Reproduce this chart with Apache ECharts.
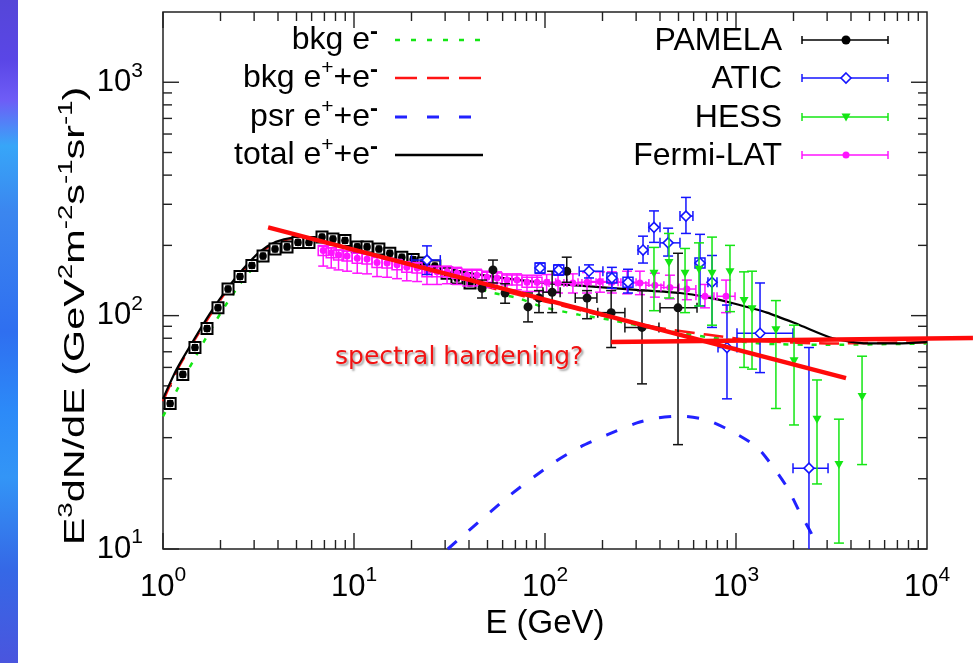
<!DOCTYPE html>
<html style="height: 100%">
<head>
  <meta charset="utf-8">
</head>
<body style="height: 100%; margin: 0; background: #fff">
<div id="container" style="width: 973px; height: 663px"></div>
<script type="text/javascript" src="https://cdn.jsdelivr.net/npm/echarts@6/dist/echarts.min.js"></script>
<script type="text/javascript">
// axis ranges (GeV, GeV^2 m^-2 s^-1 sr^-1)
var xMin = 1, xMax = 10000, yMin = 10, yMax = 2000;

// model curves: [E, E^3 dN/dE]
var bkgElectron = [[1,37],[1.2,49],[1.44,64],[1.76,86],[2.16,113],[2.62,142],[3.22,172],[3.9,196],[4.8,209],[5.9,213],[7,211],[10,202],[15,187],[20,172],[30,149],[40,135],[51.5,126],[72,119],[97,109],[150,101],[219,96],[400,87],[705,81],[1335,76],[3000,75],[10000,76]];
var bkgTotal = [[1,43],[1.18,58],[1.44,77],[1.76,100],[2.16,128],[2.62,156],[3.22,186],[3.9,205],[4.8,214],[5.9,215],[7,212],[10,202],[15,188],[20,175],[30,153],[50,133],[100,115],[200,100],[386,89],[700,83],[1300,78],[3000,76],[10000,77]];
var psrTotal = [[31,10],[65.6,17],[110,23.3],[152,27.3],[211,30.8],[303,34.7],[386,36.4],[509,37.1],[705,35.7],[964,31.7],[1288,27.3],[1563,22.5],[1850,18.4],[2163,14.3],[2500,11.5],[2624,10]];
var sumTotal = [[1,44],[1.18,59],[1.44,78],[1.76,102],[2.16,130],[2.62,158],[3.22,188],[3.9,207],[4.8,216],[5.9,217],[7,214],[10,204],[15,190],[20,178],[30,160],[50,148],[100,138],[158,134],[300,129],[509,125],[700,120],[964,113],[1452,103],[2163,91],[3222,80],[4850,76],[7000,76],[10000,77]];

// measurements
// PAMELA low energy points (drawn with systematic boxes): [E, value]
var pamelaBoxed = [[1.09,42],[1.27,56],[1.47,73],[1.70,88],[1.94,108],[2.19,130],[2.53,147],[2.92,164],[3.34,180],[3.86,193],[4.46,197],[5.09,206],[5.81,206],[6.80,217],[7.76,213],[8.97,210],[10.4,197],[11.7,197],[13.5,193],[15.4,185],[17.8,178],[20.4,174],[23.0,168],[26.5,163],[30.7,152],[34.6,145],[40.5,138]];
// [E, value, low, high, Elow, Ehigh]
var pamela = [[46.8,131,119,142,null,null],[53.4,157,138,173,null,null],[61.8,125,113,137,null,null],[81.5,109,94,125,null,null],[93,119,103,128,null,null],[109,126,103,155,97.6,120],[130,155,139,178,null,null],[166,119,97,128,144,187],[222,103,73,128,189,262],[322,89,51,128,262,395],[497,108,28,185,400,625]];
var atic = [[24.1,173,150,199,20,28.3],[94.2,160,152,168,null,null],[118,157,149,165,null,null],[170,155,145,165,151,201],[224,145,131,161,null,null],[272,139,125,158,null,null],[326,191,168,219,307,346],[372,239,206,281,350,400],[441,205,180,237,400,509],[547,267,225,321,509,595],[648,168,110,223,null,null],[749,139,89,181,713,795],[897,73,44,111,805,1012],[1336,84,57,138,1012,1988],[2410,22.2,8,73,1988,3033]];
var hess = [[372,152,105,196],[446,169,119,225],[541,152,103,194],[640,158,110,205],[749,152,91,217],[930,154,104,200],[1102,116,60,154],[1213,107,59,155],[1618,87,40,116],[2013,64,34,91],[2655,36,19,53],[3459,23,10.6,36],[4570,45,23,67]];
var fermi = [[6.9,190,163,198],[7.6,186,160,195],[8.3,182,157,191],[9.2,180,155,189],[10.4,176,152,185],[11.7,175,151,184],[13.2,169,147,178],[14.9,168,146,177],[16.8,165,144,174],[18.9,161,141,170],[21.4,160,140,169],[24.1,154,136,163],[27.2,154,136,163],[30.7,154,137,163],[34.6,152,136,161],[39.1,149,134,158],[44,149,134,158],[49.7,146,132,155],[56.1,145,131,154],[63.2,142,129,151],[71.3,142,129,151],[80.5,139,127,149],[90.8,139,127,149],[102,139,126,150],[117,138,125,150],[140,138,125,151],[166,139,125,153],[194,140,126,154],[224,139,125,154],[269,139,124,155],[314,138,123,155],[376,135,120,152],[451,132,118,149],[553,130,117,142],[688,121,108,136],[887,121,103,142]];

// hand-drawn "spectral hardening" guide lines: [E1, v1, E2, v2]
var hardeningLines = [[3.55,239,3767,54],[222,77.1,17400,80.2]];

var modelNames = ['{t|bkg e}{m|-}', '{t|bkg e}{s|+}{t|+e}{m|-}', '{t|psr e}{s|+}{t|+e}{m|-}', '{t|total e}{s|+}{t|+e}{m|-}'];
var dataNames = ['PAMELA', 'ATIC', 'HESS', 'Fermi-LAT'];

var FONT = 'Liberation Sans, Arial, Helvetica, sans-serif';
var GREEN = '#14e614', RED = '#ff1414', BLUE = '#1414ff', MAG = '#ff14ff', DBLUE = '#2222ff';

// axis ticks (decoration, drawn on all four sides)
var xTicks = [], yTicks = [];
for (var d = 0; d < 4; d++) {
  for (var m = 1; m < 10; m++) xTicks.push([m * Math.pow(10, d), yMin, m === 1 ? 1 : 0]);
}
for (var d2 = 1; d2 < 4; d2++) {
  for (var m2 = 1; m2 < 10; m2++) {
    var t = m2 * Math.pow(10, d2);
    if (t < yMax) yTicks.push([xMin, t, m2 === 1 ? 1 : 0]);
  }
}

function tickRender(isX) {
  return function (params, api) {
    var cs = params.coordSys;
    var len = api.value(2) ? 16 : 9;
    var st = {stroke: '#222', lineWidth: 1.4};
    var p = api.coord([api.value(0), api.value(1)]);
    if (isX) {
      var b = cs.y + cs.height, tp = cs.y;
      return {type: 'group', children: [
        {type: 'line', shape: {x1: p[0], y1: b, x2: p[0], y2: b - len}, style: st},
        {type: 'line', shape: {x1: p[0], y1: tp, x2: p[0], y2: tp + len}, style: st}
      ]};
    }
    var l = cs.x, r = cs.x + cs.width;
    return {type: 'group', children: [
      {type: 'line', shape: {x1: l, y1: p[1], x2: l + len, y2: p[1]}, style: st},
      {type: 'line', shape: {x1: r, y1: p[1], x2: r - len, y2: p[1]}, style: st}
    ]};
  };
}

function ok(v) { return typeof v === 'number' && v > 0; }

function vbar(api, E, lo, hi, cap, st, kids) {
  var a = api.coord([E, hi]), b = api.coord([E, lo]);
  kids.push({type: 'line', shape: {x1: a[0], y1: a[1], x2: b[0], y2: b[1]}, style: st});
  kids.push({type: 'line', shape: {x1: a[0] - cap, y1: a[1], x2: a[0] + cap, y2: a[1]}, style: st});
  kids.push({type: 'line', shape: {x1: b[0] - cap, y1: b[1], x2: b[0] + cap, y2: b[1]}, style: st});
}
function hbar(api, v, e1, e2, cap, st, kids) {
  var a = api.coord([e1, v]), b = api.coord([e2, v]);
  kids.push({type: 'line', shape: {x1: a[0], y1: a[1], x2: b[0], y2: b[1]}, style: st});
  kids.push({type: 'line', shape: {x1: a[0], y1: a[1] - cap, x2: a[0], y2: a[1] + cap}, style: st});
  kids.push({type: 'line', shape: {x1: b[0], y1: b[1] - cap, x2: b[0], y2: b[1] + cap}, style: st});
}
function marker(kind, x, y, color) {
  if (kind === 'circle') return {type: 'circle', shape: {cx: x, cy: y, r: 4.5}, style: {fill: color}};
  if (kind === 'small') return {type: 'circle', shape: {cx: x, cy: y, r: 3.5}, style: {fill: color}};
  if (kind === 'diamond') return {type: 'polygon', shape: {points: [[x, y - 5], [x + 5, y], [x, y + 5], [x - 5, y]]}, style: {fill: '#fff', stroke: color, lineWidth: 1.6}};
  if (kind === 'tri') return {type: 'polygon', shape: {points: [[x - 4.5, y - 3.5], [x + 4.5, y - 3.5], [x, y + 4.5]]}, style: {fill: color}};
  return null;
}

function pointRender(color, kind, boxNoHoriz) {
  return function (params, api) {
    var E = api.value(0), v = api.value(1), lo = api.value(2), hi = api.value(3);
    var e1 = api.value(4), e2 = api.value(5);
    var p = api.coord([E, v]);
    var st = {stroke: color, lineWidth: 1.5};
    var kids = [];
    if (ok(lo) && ok(hi)) vbar(api, E, lo, hi, 5, st, kids);
    if (ok(e1) && ok(e2)) hbar(api, v, e1, e2, 5, st, kids);
    else if (boxNoHoriz) kids.push({type: 'rect', shape: {x: p[0] - 5, y: p[1] - 5, width: 10, height: 10}, style: {fill: 'none', stroke: color, lineWidth: 1.5}});
    kids.push(marker(kind, p[0], p[1], color));
    return {type: 'group', children: kids};
  };
}

function boxedRender(params, api) {
  var p = api.coord([api.value(0), api.value(1)]);
  return {type: 'group', children: [
    {type: 'rect', shape: {x: p[0] - 5.5, y: p[1] - 5.5, width: 11, height: 11}, style: {fill: '#fff', stroke: '#000', lineWidth: 2}},
    {type: 'line', shape: {x1: p[0] - 3, y1: p[1] - 3, x2: p[0] + 3, y2: p[1] - 3}, style: {stroke: '#000', lineWidth: 1}},
    {type: 'line', shape: {x1: p[0] - 3, y1: p[1] + 3, x2: p[0] + 3, y2: p[1] + 3}, style: {stroke: '#000', lineWidth: 1}},
    {type: 'circle', shape: {cx: p[0], cy: p[1], r: 3.8}, style: {fill: '#000'}}
  ]};
}

function fermiRender(params, api) {
  var E = api.value(0), v = api.value(1), lo = api.value(2), hi = api.value(3);
  var p = api.coord([E, v]);
  var st = {stroke: MAG, lineWidth: 1.5};
  var kids = [];
  vbar(api, E, lo, hi, 5, st, kids);
  if (E > 95) {
    kids.push({type: 'line', shape: {x1: p[0] - 9, y1: p[1], x2: p[0] + 9, y2: p[1]}, style: st});
    kids.push({type: 'line', shape: {x1: p[0] - 9, y1: p[1] - 4, x2: p[0] - 9, y2: p[1] + 4}, style: st});
    kids.push({type: 'line', shape: {x1: p[0] + 9, y1: p[1] - 4, x2: p[0] + 9, y2: p[1] + 4}, style: st});
  } else {
    kids.push({type: 'rect', shape: {x: p[0] - 5, y: p[1] - 5, width: 10, height: 10}, style: {fill: 'none', stroke: MAG, lineWidth: 1.5}});
  }
  kids.push(marker('small', p[0], p[1], MAG));
  return {type: 'group', children: kids};
}

function guideRender(params, api) {
  var a = api.coord([api.value(0), api.value(1)]);
  var b = api.coord([api.value(2), api.value(3)]);
  return {type: 'line', shape: {x1: a[0], y1: a[1], x2: b[0], y2: b[1]}, style: {stroke: '#ff0a0a', lineWidth: 4.5}};
}

var tickRich = {
  b: {fontSize: 31, fontFamily: FONT, color: '#000', lineHeight: 44},
  s: {fontSize: 21, fontFamily: FONT, color: '#000', lineHeight: 22, verticalAlign: 'top'}
};
function powLabel(v) {
  var e = Math.log(v) / Math.LN10;
  var n = Math.round(e);
  if (Math.abs(e - n) > 1e-6) return '';
  return '{b|10}{s|' + n + '}';
}

var legRich = {
  t: {fontSize: 32, fontFamily: FONT, color: '#000', lineHeight: 40},
  s: {fontSize: 21, fontFamily: FONT, color: '#000', lineHeight: 21, verticalAlign: 'top'},
  m: {fontSize: 24, fontFamily: FONT, fontWeight: 'bold', color: '#000', lineHeight: 22, verticalAlign: 'top'}
};

var rowY = [40, 78, 117, 155];
var modelStyles = [
  {stroke: GREEN, lineWidth: 2.5, lineDash: [5, 11]},
  {stroke: RED, lineWidth: 2.5, lineDash: [22, 10]},
  {stroke: DBLUE, lineWidth: 3, lineDash: [12, 20]},
  {stroke: '#000', lineWidth: 2.5}
];
var dataColors = ['#000', BLUE, GREEN, MAG];
var dataMarkers = ['circle', 'diamond', 'tri', 'small'];

var graphics = [
  {type: 'rect', left: 0, top: 0, z: -10, shape: {width: 18, height: 663}, style: {fill: new echarts.graphic.LinearGradient(0, 0, 0, 1, [
    {offset: 0, color: '#5546d8'}, {offset: 0.09, color: '#5a46e6'}, {offset: 0.15, color: '#6e5cf6'},
    {offset: 0.22, color: '#37a6f8'}, {offset: 0.32, color: '#3b86ef'}, {offset: 0.5, color: '#2f6ff0'},
    {offset: 0.62, color: '#2c8af8'}, {offset: 0.72, color: '#3395f6'}, {offset: 0.86, color: '#3568e6'},
    {offset: 1, color: '#4a55de'}])}},
  {type: 'text', x: 76, y: 316, rotation: Math.PI / 2, scaleX: 1.38, z: 50, style: {
    text: '{t|E}{s|3}{t|dN/dE (GeV}{s|2}{t|m}{s|-2}{t|s}{s|-1}{t|sr}{s|-1}{t|)}',
    align: 'center', verticalAlign: 'middle',
    rich: {
      t: {fontSize: 30, fontFamily: FONT, color: '#000', lineHeight: 40},
      s: {fontSize: 20, fontFamily: FONT, color: '#000', lineHeight: 20, verticalAlign: 'top'}
    }}},
  {type: 'text', x: 335, y: 357, z: 60, style: {
    text: 'spectral hardening?', font: '25px "DejaVu Sans", Verdana, sans-serif', fill: '#f21212',
    align: 'left', verticalAlign: 'middle',
    textShadowColor: 'rgba(0,0,0,0.35)', textShadowOffsetX: 2, textShadowOffsetY: 2, textShadowBlur: 2}}
];

modelNames.forEach(function (name, i) {
  graphics.push({type: 'text', x: 378, y: rowY[i], z: 50, style: {text: name, rich: legRich, align: 'right', verticalAlign: 'middle'}});
  graphics.push({type: 'line', z: 50, shape: {x1: 395, y1: rowY[i], x2: 483, y2: rowY[i]}, style: modelStyles[i]});
});
dataNames.forEach(function (name, i) {
  var y = rowY[i], c = dataColors[i];
  var st = {stroke: c, lineWidth: 1.5};
  graphics.push({type: 'text', x: 782, y: y + 1, z: 50, style: {text: name, font: '32px ' + FONT, fill: '#000', align: 'right', verticalAlign: 'middle'}});
  graphics.push({type: 'line', z: 50, shape: {x1: 802, y1: y, x2: 888, y2: y}, style: st});
  graphics.push({type: 'line', z: 50, shape: {x1: 802, y1: y - 4, x2: 802, y2: y + 4}, style: st});
  graphics.push({type: 'line', z: 50, shape: {x1: 888, y1: y - 4, x2: 888, y2: y + 4}, style: st});
  var mk = marker(dataMarkers[i], 846, y, c);
  mk.z = 51;
  graphics.push(mk);
});

function curve(name, data, color, width, type) {
  return {
    name: name, type: 'line', data: data, showSymbol: false, smooth: 0.25, z: 2,
    lineStyle: {color: color, width: width, type: type}, silent: true
  };
}

var option = {
  backgroundColor: '#fff',
  animation: false,
  grid: {left: 163, right: 46, top: 12, bottom: 114, show: true, borderColor: '#222', borderWidth: 1.5, backgroundColor: 'transparent'},
  xAxis: {
    type: 'log', logBase: 10, min: xMin, max: xMax,
    name: 'E (GeV)', nameLocation: 'middle', nameGap: 58,
    nameTextStyle: {fontSize: 33, fontFamily: FONT, color: '#000'},
    axisLine: {show: false}, axisTick: {show: false}, splitLine: {show: false},
    axisLabel: {margin: 16, formatter: powLabel, rich: tickRich}
  },
  yAxis: {
    type: 'log', logBase: 10, min: yMin, max: yMax,
    axisLine: {show: false}, axisTick: {show: false}, splitLine: {show: false},
    axisLabel: {margin: 20, formatter: powLabel, rich: tickRich, showMaxLabel: false}
  },
  graphic: graphics,
  series: [
    {type: 'custom', data: xTicks, renderItem: tickRender(true), encode: {x: 0, y: 1}, silent: true, z: 1},
    {type: 'custom', data: yTicks, renderItem: tickRender(false), encode: {x: 0, y: 1}, silent: true, z: 1},
    curve('bkg e-', bkgElectron, GREEN, 2.5, [5, 9]),
    curve('bkg e+e-', bkgTotal, RED, 2.5, [20, 9]),
    curve('psr e+e-', psrTotal, DBLUE, 3, [12, 16]),
    curve('total e+e-', sumTotal, '#000', 2.2, 'solid'),
    {name: 'PAMELA', type: 'custom', data: pamelaBoxed, renderItem: boxedRender, encode: {x: 0, y: 1}, clip: true, z: 3},
    {name: 'Fermi-LAT', type: 'custom', data: fermi, renderItem: fermiRender, encode: {x: 0, y: 1}, clip: true, z: 3},
    {name: 'PAMELA', type: 'custom', data: pamela, renderItem: pointRender('#111', 'circle', false), encode: {x: 0, y: 1}, clip: true, z: 4},
    {name: 'ATIC', type: 'custom', data: atic, renderItem: pointRender(BLUE, 'diamond', true), encode: {x: 0, y: 1}, clip: true, z: 4},
    {name: 'HESS', type: 'custom', data: hess, renderItem: pointRender(GREEN, 'tri', false), encode: {x: 0, y: 1}, clip: true, z: 4},
    {type: 'custom', data: hardeningLines, renderItem: guideRender, encode: {x: 0, y: 1}, clip: false, silent: true, z: 10}
  ]
};

var chart = echarts.init(document.getElementById('container'));
chart.setOption(option);
</script>
</body>
</html>
